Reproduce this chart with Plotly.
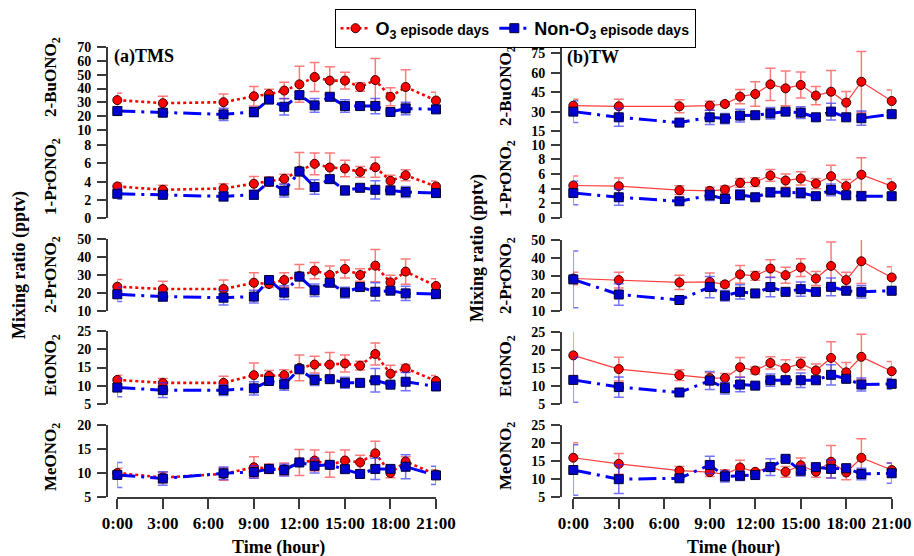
import plotly.graph_objects as go

W, H = 914, 556

hours = [0, 3, 7, 9, 10, 11, 12, 13, 14, 15, 16, 17, 18, 19, 21]
xtick_vals = [0, 3, 6, 9, 12, 15, 18, 21]
xtick_text = ["0:00", "3:00", "6:00", "9:00", "12:00", "15:00", "18:00", "21:00"]

# ---------------- (a) TMS ----------------
tms_bu_o3 = [31.6, 29.4, 30.1, 34.4, 35.9, 38.5, 43.0, 48.3, 45.7, 45.7, 41.1, 46.1, 34.0, 41.1, 31.3]
tms_bu_o3_err = [5, 5, 6, 7, 3.5, 6, 13, 10.5, 10, 6, 3, 15.5, 6.5, 12.5, 6]
tms_bu_non = [23.7, 22.5, 21.3, 23.0, 32.0, 26.8, 35.2, 27.8, 34.0, 27.3, 27.3, 27.3, 23.0, 25.6, 24.9]
tms_bu_non_err = [3, 2.5, 4.5, 3.5, 2, 6, 2, 5, 1.5, 4.5, 1, 5.5, 1, 4.5, 1.5]

tms_1pr_o3 = [3.47, 3.1, 3.25, 3.76, 4.0, 4.3, 5.2, 5.95, 5.55, 5.44, 5.07, 5.58, 4.09, 4.7, 3.47]
tms_1pr_o3_err = [0.4, 0.5, 0.5, 0.8, 0.5, 0.5, 2.0, 1.2, 1.6, 0.9, 0.6, 1.1, 0.6, 0.6, 0.6]
tms_1pr_non = [2.66, 2.55, 2.37, 2.55, 4.0, 3.0, 5.1, 3.4, 4.27, 3.03, 3.32, 3.1, 3.03, 2.85, 2.74]
tms_1pr_non_err = [0.6, 0.4, 0.5, 0.5, 0.2, 0.7, 0.2, 0.8, 0.3, 0.5, 0.1, 1.0, 0.2, 0.6, 0.3]

tms_2pr_o3 = [23.5, 22.2, 22.2, 25.7, 25.0, 27.2, 29.4, 32.4, 30.0, 33.3, 30.0, 35.2, 25.9, 31.9, 23.9]
tms_2pr_o3_err = [4, 4.3, 5, 5.5, 2, 4, 6.5, 4.5, 5, 5, 3.5, 9, 4, 7, 4]
tms_2pr_non = [19.3, 18.0, 17.4, 18.0, 27.2, 20.2, 29.1, 21.5, 25.7, 20.2, 23.3, 20.7, 21.3, 19.8, 19.4]
tms_2pr_non_err = [4, 2.5, 4, 3.5, 1, 3.8, 1, 3.5, 1, 3, 1, 5, 1, 4, 2.5]

tms_et_o3 = [11.6, 10.8, 10.8, 12.9, 12.7, 12.9, 14.9, 15.8, 15.8, 16.1, 15.5, 18.7, 13.3, 14.8, 11.3]
tms_et_o3_err = [1.3, 1.2, 1.8, 3.3, 1.5, 1.5, 3.5, 2.3, 3.3, 2.3, 1.2, 3, 2.3, 1, 1.5]
tms_et_non = [9.5, 8.8, 8.8, 9.3, 11.3, 10.4, 14.5, 11.6, 11.8, 10.8, 10.8, 11.5, 10.3, 11.1, 9.8]
tms_et_non_err = [2.5, 2, 1.5, 1.8, 0.7, 1.6, 0.5, 1.5, 0.5, 1.5, 0.4, 3.2, 0.4, 2.5, 1]

tms_me_o3 = [10.0, 9.06, 9.8, 11.2, 10.9, 10.8, 12.2, 12.6, 11.7, 12.6, 12.2, 14.1, 10.0, 12.4, 9.7]
tms_me_o3_err = [1, 1.1, 1.3, 2.2, 1, 1.3, 2.7, 2.2, 2.6, 2.2, 1.5, 2.5, 1, 1, 1]
tms_me_non = [9.6, 8.85, 9.95, 10.2, 10.85, 10.6, 12.2, 11.5, 11.7, 10.8, 9.8, 10.85, 10.85, 11.3, 9.5]
tms_me_non_err = [2.6, 1.4, 1.3, 1.3, 0.3, 1.2, 0.3, 1.5, 0.3, 0.6, 0.3, 2.2, 0.5, 2.5, 1.9]

# ---------------- (b) TW ----------------
tw_bu_o3 = [34.6, 34.1, 34.1, 34.6, 35.9, 41.6, 43.6, 51.1, 48.0, 50.6, 42.4, 45.4, 37.0, 53.1, 38.2]
tw_bu_o3_err = [5, 5.5, 5, 3.5, 1.5, 5.5, 9.5, 12.5, 13.5, 10, 7, 16.5, 8.5, 23.5, 8.5]
tw_bu_non = [30.0, 25.6, 21.5, 25.6, 24.6, 26.9, 27.2, 28.7, 30.0, 29.2, 25.6, 30.0, 25.6, 24.9, 28.0]
tw_bu_non_err = [8.5, 7, 1, 5.5, 4, 5, 1, 4.5, 1, 4.5, 1, 6.5, 1.5, 5.5, 1.5]

tw_1pr_o3 = [4.43, 4.34, 3.79, 3.7, 3.88, 4.8, 4.89, 5.8, 5.11, 5.39, 4.7, 5.7, 4.34, 5.9, 4.34]
tw_1pr_o3_err = [1.3, 1.1, 0.6, 0.5, 0.5, 0.6, 0.6, 0.8, 0.9, 0.9, 0.7, 1.5, 0.9, 2.3, 1.0]
tw_1pr_non = [3.42, 2.83, 2.28, 3.1, 2.6, 3.15, 2.83, 3.5, 3.5, 3.42, 2.97, 3.84, 3.1, 2.97, 2.97]
tw_1pr_non_err = [1.6, 1.1, 0.1, 0.7, 0.6, 0.7, 0.2, 0.6, 0.2, 0.7, 0.2, 0.8, 0.3, 0.6, 0.4]

tw_2pr_o3 = [28.3, 27.4, 26.1, 26.4, 25.0, 30.6, 29.8, 33.9, 30.2, 34.5, 28.3, 35.4, 27.4, 38.0, 28.9]
tw_2pr_o3_err = [3.5, 4.5, 4, 5, 1.5, 5, 2.5, 5, 4.5, 5, 4, 13.5, 4.5, 12.5, 6]
tw_2pr_non = [27.8, 19.3, 16.2, 23.5, 18.6, 20.8, 19.9, 23.5, 20.8, 22.3, 20.8, 23.6, 21.4, 20.8, 21.4]
tw_2pr_non_err = [16, 6, 0.5, 6, 3, 4, 0.5, 5.5, 0.5, 4, 0.5, 5, 1, 3.5, 1]

tw_et_o3 = [18.5, 14.7, 13.0, 12.2, 12.2, 15.2, 14.3, 16.4, 15.0, 16.2, 14.3, 17.8, 13.8, 18.1, 14.1]
tw_et_o3_err = [7, 3.3, 1.5, 1.5, 1.3, 2.7, 1, 1.7, 2.3, 1.7, 1.8, 4.5, 2.7, 6.3, 2.7]
tw_et_non = [11.7, 9.7, 8.2, 11.5, 9.4, 10.4, 10.1, 11.6, 11.6, 11.6, 11.6, 13.1, 12.0, 10.4, 10.6]
tw_et_non_err = [6.2, 2.8, 0.3, 2.5, 1.6, 2, 0.5, 1.7, 0.5, 2, 0.5, 2.8, 0.5, 1.8, 1.5]

tw_me_o3 = [15.9, 14.2, 12.3, 11.9, 11.3, 13.2, 12.0, 13.3, 12.0, 13.8, 12.0, 14.8, 11.8, 15.9, 12.5]
tw_me_o3_err = [4.2, 2.9, 1.2, 1.2, 1.3, 2, 0.6, 1, 1.5, 2, 1.5, 4.5, 2, 5.3, 2]
tw_me_non = [12.5, 9.95, 10.2, 13.9, 10.7, 10.9, 11.1, 13.3, 15.6, 12.3, 13.3, 12.8, 13.0, 11.4, 11.6]
tw_me_non_err = [7, 4, 0.3, 2.4, 1.5, 1.3, 0.4, 2.3, 0.5, 1.5, 0.5, 2.5, 0.8, 1.6, 2.8]

species = ["2-BuONO<sub>2</sub>", "1-PrONO<sub>2</sub>", "2-PrONO<sub>2</sub>",
           "EtONO<sub>2</sub>", "MeONO<sub>2</sub>"]

left_data = [
    (tms_bu_o3, tms_bu_o3_err, tms_bu_non, tms_bu_non_err),
    (tms_1pr_o3, tms_1pr_o3_err, tms_1pr_non, tms_1pr_non_err),
    (tms_2pr_o3, tms_2pr_o3_err, tms_2pr_non, tms_2pr_non_err),
    (tms_et_o3, tms_et_o3_err, tms_et_non, tms_et_non_err),
    (tms_me_o3, tms_me_o3_err, tms_me_non, tms_me_non_err),
]
right_data = [
    (tw_bu_o3, tw_bu_o3_err, tw_bu_non, tw_bu_non_err),
    (tw_1pr_o3, tw_1pr_o3_err, tw_1pr_non, tw_1pr_non_err),
    (tw_2pr_o3, tw_2pr_o3_err, tw_2pr_non, tw_2pr_non_err),
    (tw_et_o3, tw_et_o3_err, tw_et_non, tw_et_non_err),
    (tw_me_o3, tw_me_o3_err, tw_me_non, tw_me_non_err),
]

# layout geometry (pixels)
left_ranges = [[10, 70], [0, 10], [10, 50], [5, 25], [5, 20]]
left_ticks = [list(range(10, 71, 10)), [0, 2, 4, 6, 8], list(range(10, 51, 10)),
              list(range(5, 26, 5)), list(range(5, 21, 5))]
left_pix = [(47, 130), (127, 218), (239, 311), (331, 404), (425, 497)]
right_ranges = [[15, 80], [0, 12], [10, 50], [5, 25], [5, 25]]
right_ticks = [list(range(15, 76, 15)), [0, 2, 4, 6, 8, 10], list(range(10, 51, 10)),
               list(range(5, 26, 5)), list(range(5, 26, 5))]
right_pix = [(47, 131), (130, 218), (240, 311), (332, 404), (425, 497)]

left_xdom = [117.3 / W, 436.0 / W]
right_xdom = [573.3 / W, 891.7 / W]
left_ypos = 107 / W
right_ypos = 561 / W

SERIF = "Liberation Serif"
AXCOL = "#3a3a3a"

O3_NAME = "O<sub>3</sub><span style='font-size:14px'> episode days</span>"
NON_NAME = "Non-O<sub>3</sub><span style='font-size:14px'> episode days</span>"

fig = go.Figure()
layout = dict(
    width=W, height=H, margin=dict(l=0, r=0, t=0, b=0),
    paper_bgcolor="white", plot_bgcolor="rgba(0,0,0,0)",
    showlegend=True,
    legend=dict(orientation="h", x=515 / W, xanchor="center", y=1 - 9 / H, yanchor="top",
                bordercolor="black", borderwidth=1, bgcolor="white",
                font=dict(family="Liberation Sans", size=18, color="black", weight="bold"),
                itemwidth=30, tracegroupgap=0),
)

annotations = []


def add_panel(idx, data, yrange, yticks, pix, xdom, ypos, solid_red, bottom, show_leg):
    o3, o3e, non, none_ = data
    xa = "x" if idx == 1 else f"x{idx}"
    ya = "y" if idx == 1 else f"y{idx}"
    if solid_red:
        red_line = dict(color="rgba(255,40,40,0.9)", width=1.2)
    else:
        red_line = dict(color="#FF0000", width=2.6, dash="3px,3px")
    fig.add_trace(go.Scatter(
        x=hours, y=o3, xaxis=xa, yaxis=ya, mode="lines+markers", name=O3_NAME,
        showlegend=show_leg, cliponaxis=False,
        line=red_line,
        marker=dict(symbol="circle", size=9, color="#FF0000", line=dict(color="#3a0000", width=1)),
        error_y=dict(type="data", array=o3e, visible=True, color="rgba(255,50,50,0.65)",
                     thickness=1.5, width=5),
    ))
    fig.add_trace(go.Scatter(
        x=hours, y=non, xaxis=xa, yaxis=ya, mode="lines+markers", name=NON_NAME,
        showlegend=show_leg, cliponaxis=False,
        line=dict(color="#0000FF", width=3, dash="18px,6px,3px,6px"),
        marker=dict(symbol="square", size=9, color="#0000CC", line=dict(color="#000033", width=1)),
        error_y=dict(type="data", array=none_, visible=True, color="rgba(40,40,255,0.65)",
                     thickness=1.5, width=5),
    ))
    top, bot = pix
    xkey = "xaxis" if idx == 1 else f"xaxis{idx}"
    ykey = "yaxis" if idx == 1 else f"yaxis{idx}"
    xax = dict(domain=xdom, range=[0, 21], anchor=ya, automargin=False,
               showgrid=False, zeroline=False, fixedrange=True)
    if bottom:
        xax.update(visible=True, showline=True, linecolor=AXCOL, linewidth=2,
                   ticks="outside", ticklen=10, tickwidth=2, tickcolor=AXCOL,
                   tickvals=xtick_vals, ticktext=xtick_text,
                   tickfont=dict(family=SERIF, size=17, color="black", weight="bold"))
    else:
        xax.update(visible=False)
    layout[xkey] = xax
    layout[ykey] = dict(domain=[1 - bot / H, 1 - top / H], range=yrange, anchor="free",
                        position=ypos, automargin=False, showgrid=False, zeroline=False,
                        showline=True, linecolor=AXCOL, linewidth=2,
                        ticks="outside", ticklen=9, tickwidth=2, tickcolor=AXCOL,
                        tickvals=yticks, ticklabelstandoff=3,
                        tickfont=dict(family=SERIF, size=14, color="black", weight="bold"),
                        fixedrange=True)


for i in range(5):
    add_panel(i + 1, left_data[i], left_ranges[i], left_ticks[i], left_pix[i],
              left_xdom, left_ypos, False, i == 4, i == 0)
for i in range(5):
    add_panel(i + 6, right_data[i], right_ranges[i], right_ticks[i], right_pix[i],
              right_xdom, right_ypos, True, i == 4, False)

# y-axis titles (species)
left_title_y = [77, 177, 275, 365, 457]
right_title_y = [86, 178, 275, 366, 456]


def ann(text, x, y, size=18, angle=0, family=SERIF, weight="bold", xanchor="center"):
    annotations.append(dict(text=text, x=x / W, y=1 - y / H, xref="paper", yref="paper",
                            showarrow=False, textangle=angle, xanchor=xanchor, yanchor="middle",
                            font=dict(family=family, size=size, color="black", weight=weight)))


for s, yy in zip(species, left_title_y):
    ann(s, 52, yy, size=17, angle=-90)
for s, yy in zip(species, right_title_y):
    ann(s, 507, yy, size=17, angle=-90)

ann("Mixing ratio (pptv)", 20, 265, size=18, angle=-90)
ann("Mixing ratio (pptv)", 477, 248, size=18, angle=-90)
ann("(a)TMS", 112, 56, size=18, xanchor="left")
ann("(b)TW", 565, 57, size=18, xanchor="left")
ann("Time (hour)", 278, 547, size=18)
ann("Time (hour)", 733, 547, size=18)

layout["annotations"] = annotations
fig.update_layout(**layout)

fig.write_html("out.html", config={"displayModeBar": False},
               post_script="document.body.style.margin='0';")
